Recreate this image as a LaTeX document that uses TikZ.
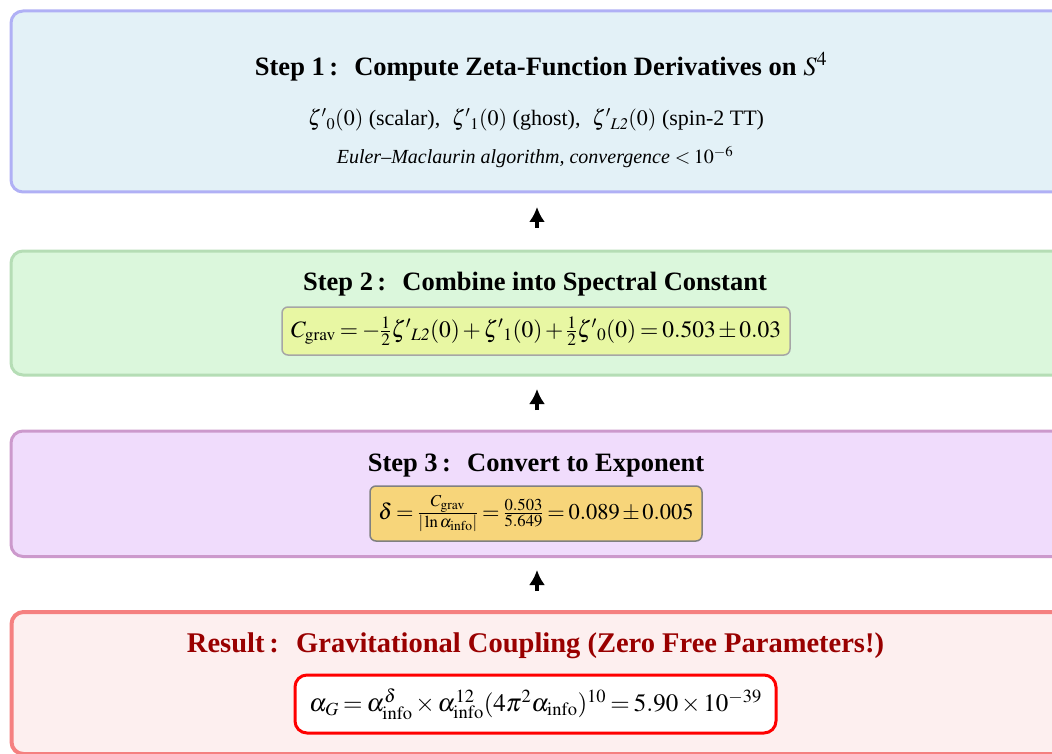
\documentclass[tikz,border=0pt]{standalone}
\usepackage{mathptmx}
\usepackage{fontspec}
\setmainfont{Liberation Serif}
\usetikzlibrary{arrows.meta}
\definecolor{b1fill}{HTML}{E3F1F7}
\definecolor{b1draw}{HTML}{B0B0F5}
\definecolor{b2fill}{HTML}{DBF7DC}
\definecolor{b2draw}{HTML}{B5DDB5}
\definecolor{b3fill}{HTML}{F0DCFC}
\definecolor{b3draw}{HTML}{CC99CC}
\definecolor{b4fill}{HTML}{FDEFEF}
\definecolor{b4draw}{HTML}{F58080}
\definecolor{f2fill}{HTML}{E8F7A3}
\definecolor{f3fill}{HTML}{F7D57A}
\definecolor{restitle}{HTML}{990000}
\thickmuskip=3mu
\medmuskip=2mu
\tikzset{
  stagebox/.style={rounded corners=12pt, line width=3pt, anchor=north west, minimum width=1060pt, inner sep=0pt},
  titletext/.style={font=\fontsize{26.5}{30}\selectfont\bfseries, inner sep=0pt},
  bodytext/.style={font=\fontsize{22}{26}\selectfont, inner sep=0pt},
  smalltext/.style={font=\fontsize{20}{24}\selectfont\itshape, inner sep=0pt},
  fbox/.style={rounded corners=6pt, line width=1.5pt, inner ysep=0pt, inner xsep=2pt, font=\fontsize{23.5}{28}\selectfont},
  arr/.style={-{Latex[length=15pt,width=16pt]}, line width=3.8pt, black},
}
\begin{document}
\begin{tikzpicture}[x=1pt,y=-1pt]
\useasboundingbox (0,0) rectangle (1052,754);
\clip (0,0) rectangle (1052,754);
% stage boxes
\node[stagebox, fill=b1fill, draw=b1draw, minimum height=181pt] (b1) at (9.5,9.5) {};
\node[stagebox, fill=b2fill, draw=b2draw, minimum height=124pt] (b2) at (9.5,249.5) {};
\node[stagebox, fill=b3fill, draw=b3draw, minimum height=125.5pt] (b3) at (9.5,429.5) {};
\node[stagebox, fill=b4fill, draw=b4draw, line width=4pt, minimum height=142pt] (b4) at (9.5,610) {};
% step 1
\node[titletext] (t1) at (541,67) {Step 1\,:\; Compute Zeta-Function Derivatives on $\mathit{S}^{4}$};
\node[bodytext] (l1) at (536,120) {$\zeta^{\prime}{}_{0}(0)$ (scalar), \;$\zeta^{\prime}{}_{1}(0)$ (ghost), \;$\zeta^{\prime}{}_{\mathit{L2}}(0)$ (spin-2 TT)};
\node[smalltext] (l2) at (535,157) {Euler–Maclaurin algorithm, convergence $<10^{-6}$};
% step 2
\node[titletext] (t2) at (535,284) {Step 2\,:\; Combine into Spectral Constant};
\node[fbox, fill=f2fill, draw=black!35, minimum height=48pt, minimum width=508pt] (f2) at (536,331)
  {$C_{\mathrm{grav}}=-\frac{1}{2}\zeta^{\prime}{}_{\mathit{L2}}(0)+\zeta^{\prime}{}_{1}(0)+\frac{1}{2}\zeta^{\prime}{}_{0}(0)=0.503\pm0.03$};
% step 3
\node[titletext] (t3) at (536,466) {Step 3\,:\; Convert to Exponent};
\node[fbox, fill=f3fill, draw=black!50, minimum height=55pt, minimum width=332pt, font=\fontsize{22.5}{27}\selectfont] (f3) at (536,513.5)
  {$\delta=\frac{C_{\mathrm{grav}}}{|\ln\alpha_{\mathrm{info}}|}=\frac{0.503}{5.649}=0.089\pm0.005$};
% result
\node[titletext, text=restitle, font=\fontsize{28.5}{32}\selectfont\bfseries] (t4) at (535.5,646) {Result\,:\; Gravitational Coupling (Zero Free Parameters!)};
\node[fbox, fill=white, draw=red, line width=3pt, rounded corners=12pt, minimum height=58pt, minimum width=481pt, font=\fontsize{25}{30}\selectfont] (f4) at (535.5,704)
  {$\alpha_{G}=\alpha_{\mathrm{info}}^{\delta}\times\alpha_{\mathrm{info}}^{12}(4\pi^{2}\alpha_{\mathrm{info}})^{10}=5.90\times10^{-39}$};
% arrows
\coordinate (a1s) at (537,228);
\coordinate (a1e) at (537,207);
\coordinate (a2s) at (537,410);
\coordinate (a2e) at (537,389);
\coordinate (a3s) at (537,591);
\coordinate (a3e) at (537,570);
\draw[arr] (a1s) -- (a1e);
\draw[arr] (a2s) -- (a2e);
\draw[arr] (a3s) -- (a3e);
\end{tikzpicture}
\end{document}
